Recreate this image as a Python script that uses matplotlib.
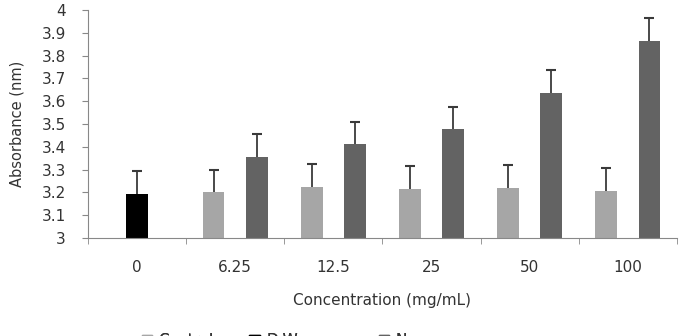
import numpy as np
import matplotlib.pyplot as plt
from matplotlib.patches import Patch

concentrations = ['0', '6.25', '12.5', '25', '50', '100']
control = [np.nan, 3.20, 3.225, 3.215, 3.22, 3.207]
control_err = [np.nan, 0.10, 0.10, 0.10, 0.10, 0.10]
dw = [3.193, np.nan, np.nan, np.nan, np.nan, np.nan]
dw_err = [0.10, np.nan, np.nan, np.nan, np.nan, np.nan]
nano = [np.nan, 3.357, 3.41, 3.48, 3.636, 3.866]
nano_err = [np.nan, 0.10, 0.10, 0.095, 0.10, 0.10]

series = [('Control', control, control_err, '#a6a6a6'),
          ('D.W', dw, dw_err, '#000000'),
          ('Nano', nano, nano_err, '#636363')]

fig = plt.figure(figsize=(6.83, 3.36), dpi=100)
ax = fig.add_axes([0.129, 0.292, 0.862, 0.678])

x = np.arange(len(concentrations))
w = 0.22
for i, (name, vals, errs, col) in enumerate(series):
    xs = x + (i - 1) * w
    ax.bar(xs, vals, width=w, color=col, label=name, zorder=2)
    eb = ax.errorbar(xs, vals, yerr=[np.zeros(len(errs)), errs], fmt='none',
                     ecolor='#3a3a3a', elinewidth=1.3, capsize=3.5, capthick=1.5, zorder=3)
    eb[1][0].set_visible(False)  # only the upper cap

ax.set_ylim(3, 4)
ax.set_yticks(np.arange(3, 4.01, 0.1))
ax.set_yticklabels(['3', '3.1', '3.2', '3.3', '3.4', '3.5', '3.6', '3.7', '3.8', '3.9', '4'])
ax.set_xlim(-0.5, len(concentrations) - 0.5)
ax.set_xticks(x)
ax.set_xticklabels(concentrations)
ax.set_xticks(np.arange(-0.5, len(concentrations)), minor=True)
ax.tick_params(axis='x', which='major', length=0, pad=16, labelsize=11, colors='#333333')
ax.tick_params(axis='x', which='minor', length=4, color='#888888', direction='out')
ax.tick_params(axis='y', length=4, color='#888888', labelsize=11, labelcolor='#333333', pad=12)

for s in ['top', 'right']:
    ax.spines[s].set_visible(False)
for s in ['left', 'bottom']:
    ax.spines[s].set_color('#888888')

ax.set_ylabel('Absorbance (nm)', fontsize=10.5, color='#333333', labelpad=12)
ax.set_xlabel('Concentration (mg/mL)', fontsize=11, color='#333333', labelpad=13)

# legend is clipped at the bottom edge of the figure
leg_x = [0.196, 0.354, 0.543]
for (name, vals, errs, col), lx in zip(series, leg_x):
    leg = fig.legend(handles=[Patch(color=col)], labels=[name], loc='upper left',
                     bbox_to_anchor=(lx, 0.031), frameon=False, fontsize=11,
                     handlelength=0.7, handleheight=0.7, handletextpad=0.4, borderpad=0,
                     labelcolor='#333333')
    fig.add_artist(leg)

fig.savefig('out.png', dpi=100)
